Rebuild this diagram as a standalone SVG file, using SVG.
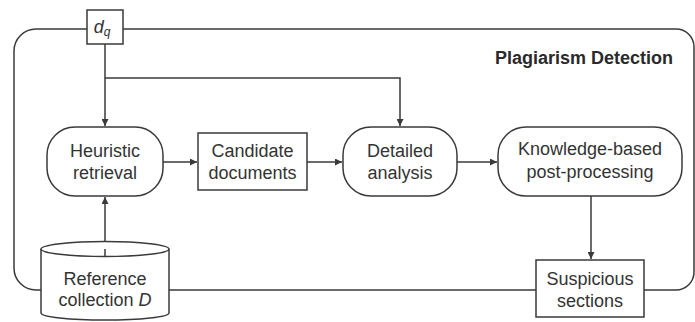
<svg xmlns="http://www.w3.org/2000/svg" width="695" height="322" viewBox="0 0 695 322">
  <style>
    .ln { fill: none; stroke: #3a3a3a; stroke-width: 1.5; }
    .nd { fill: #ffffff; stroke: #3a3a3a; stroke-width: 1.5; }
    .tx { font-family: "Liberation Sans", Arial, sans-serif; font-size: 18px; fill: #333333; text-anchor: middle; }
    .it { font-style: italic; }
    .ttl { font-family: "Liberation Sans", Arial, sans-serif; font-size: 18px; font-weight: bold; fill: #2a2a2a; }
  </style>
  <defs>
    <marker id="arrow" viewBox="0 0 10 10" refX="10" refY="5" markerWidth="7" markerHeight="7" markerUnits="userSpaceOnUse" orient="auto">
      <path d="M0,0 L10,5 L0,10 Z" fill="#3a3a3a"/>
    </marker>
  </defs>

  <rect width="695" height="322" fill="#ffffff"/>

  <!-- outer system boundary -->
  <g id="frame">
    <path class="ln" d="M14,51 A22,22 0 0 1 36,29 H676 A18,18 0 0 1 694,47 V272 A18,18 0 0 1 676,290 H36 A22,22 0 0 1 14,268 Z"/>
    <text class="ttl" x="495" y="64">Plagiarism Detection</text>
  </g>

  <!-- connectors -->
  <g id="connectors">
    <path class="ln" d="M105,44 V126" marker-end="url(#arrow)"/>
    <path class="ln" d="M105,78 H400 V126" marker-end="url(#arrow)"/>
    <path class="ln" d="M163,162 H197" marker-end="url(#arrow)"/>
    <path class="ln" d="M307,162 H342" marker-end="url(#arrow)"/>
    <path class="ln" d="M457,162 H497" marker-end="url(#arrow)"/>
    <path class="ln" d="M591,196 V259" marker-end="url(#arrow)"/>
    <path class="ln" d="M105,252 V197" marker-end="url(#arrow)"/>
  </g>

  <g id="query">
    <rect class="nd" x="87" y="10" width="36" height="34"/>
    <text class="tx it" x="102" y="33" font-size="17">d<tspan font-size="12" dy="3">q</tspan></text>
  </g>

  <g id="heuristic-retrieval">
    <rect class="nd" x="47" y="127" width="116" height="69" rx="28" ry="28"/>
    <text class="tx" x="105" y="157">Heuristic</text>
    <text class="tx" x="105" y="179">retrieval</text>
  </g>

  <g id="candidate-documents">
    <rect class="nd" x="198" y="133" width="109" height="57"/>
    <text class="tx" x="252.5" y="157">Candidate</text>
    <text class="tx" x="252.5" y="179">documents</text>
  </g>

  <g id="detailed-analysis">
    <rect class="nd" x="343" y="127" width="114" height="69" rx="28" ry="28"/>
    <text class="tx" x="400" y="157">Detailed</text>
    <text class="tx" x="400" y="179">analysis</text>
  </g>

  <g id="post-processing">
    <rect class="nd" x="498" y="127" width="184" height="69" rx="28" ry="28"/>
    <text class="tx" x="590" y="155">Knowledge-based</text>
    <text class="tx" x="590" y="178">post-processing</text>
  </g>

  <g id="suspicious-sections">
    <rect class="nd" x="536" y="260" width="108" height="57"/>
    <text class="tx" x="590" y="285">Suspicious</text>
    <text class="tx" x="590" y="307">sections</text>
  </g>

  <g id="reference-collection">
    <path class="nd" d="M41,249 V313 A64,7 0 0 0 169,313 V249"/>
    <ellipse class="nd" cx="105" cy="249" rx="64" ry="7.5"/>
    <path class="ln" d="M105,249 V256"/>
    <text class="tx" x="105" y="285">Reference</text>
    <text class="tx" x="105" y="306">collection <tspan class="it">D</tspan></text>
  </g>
</svg>
